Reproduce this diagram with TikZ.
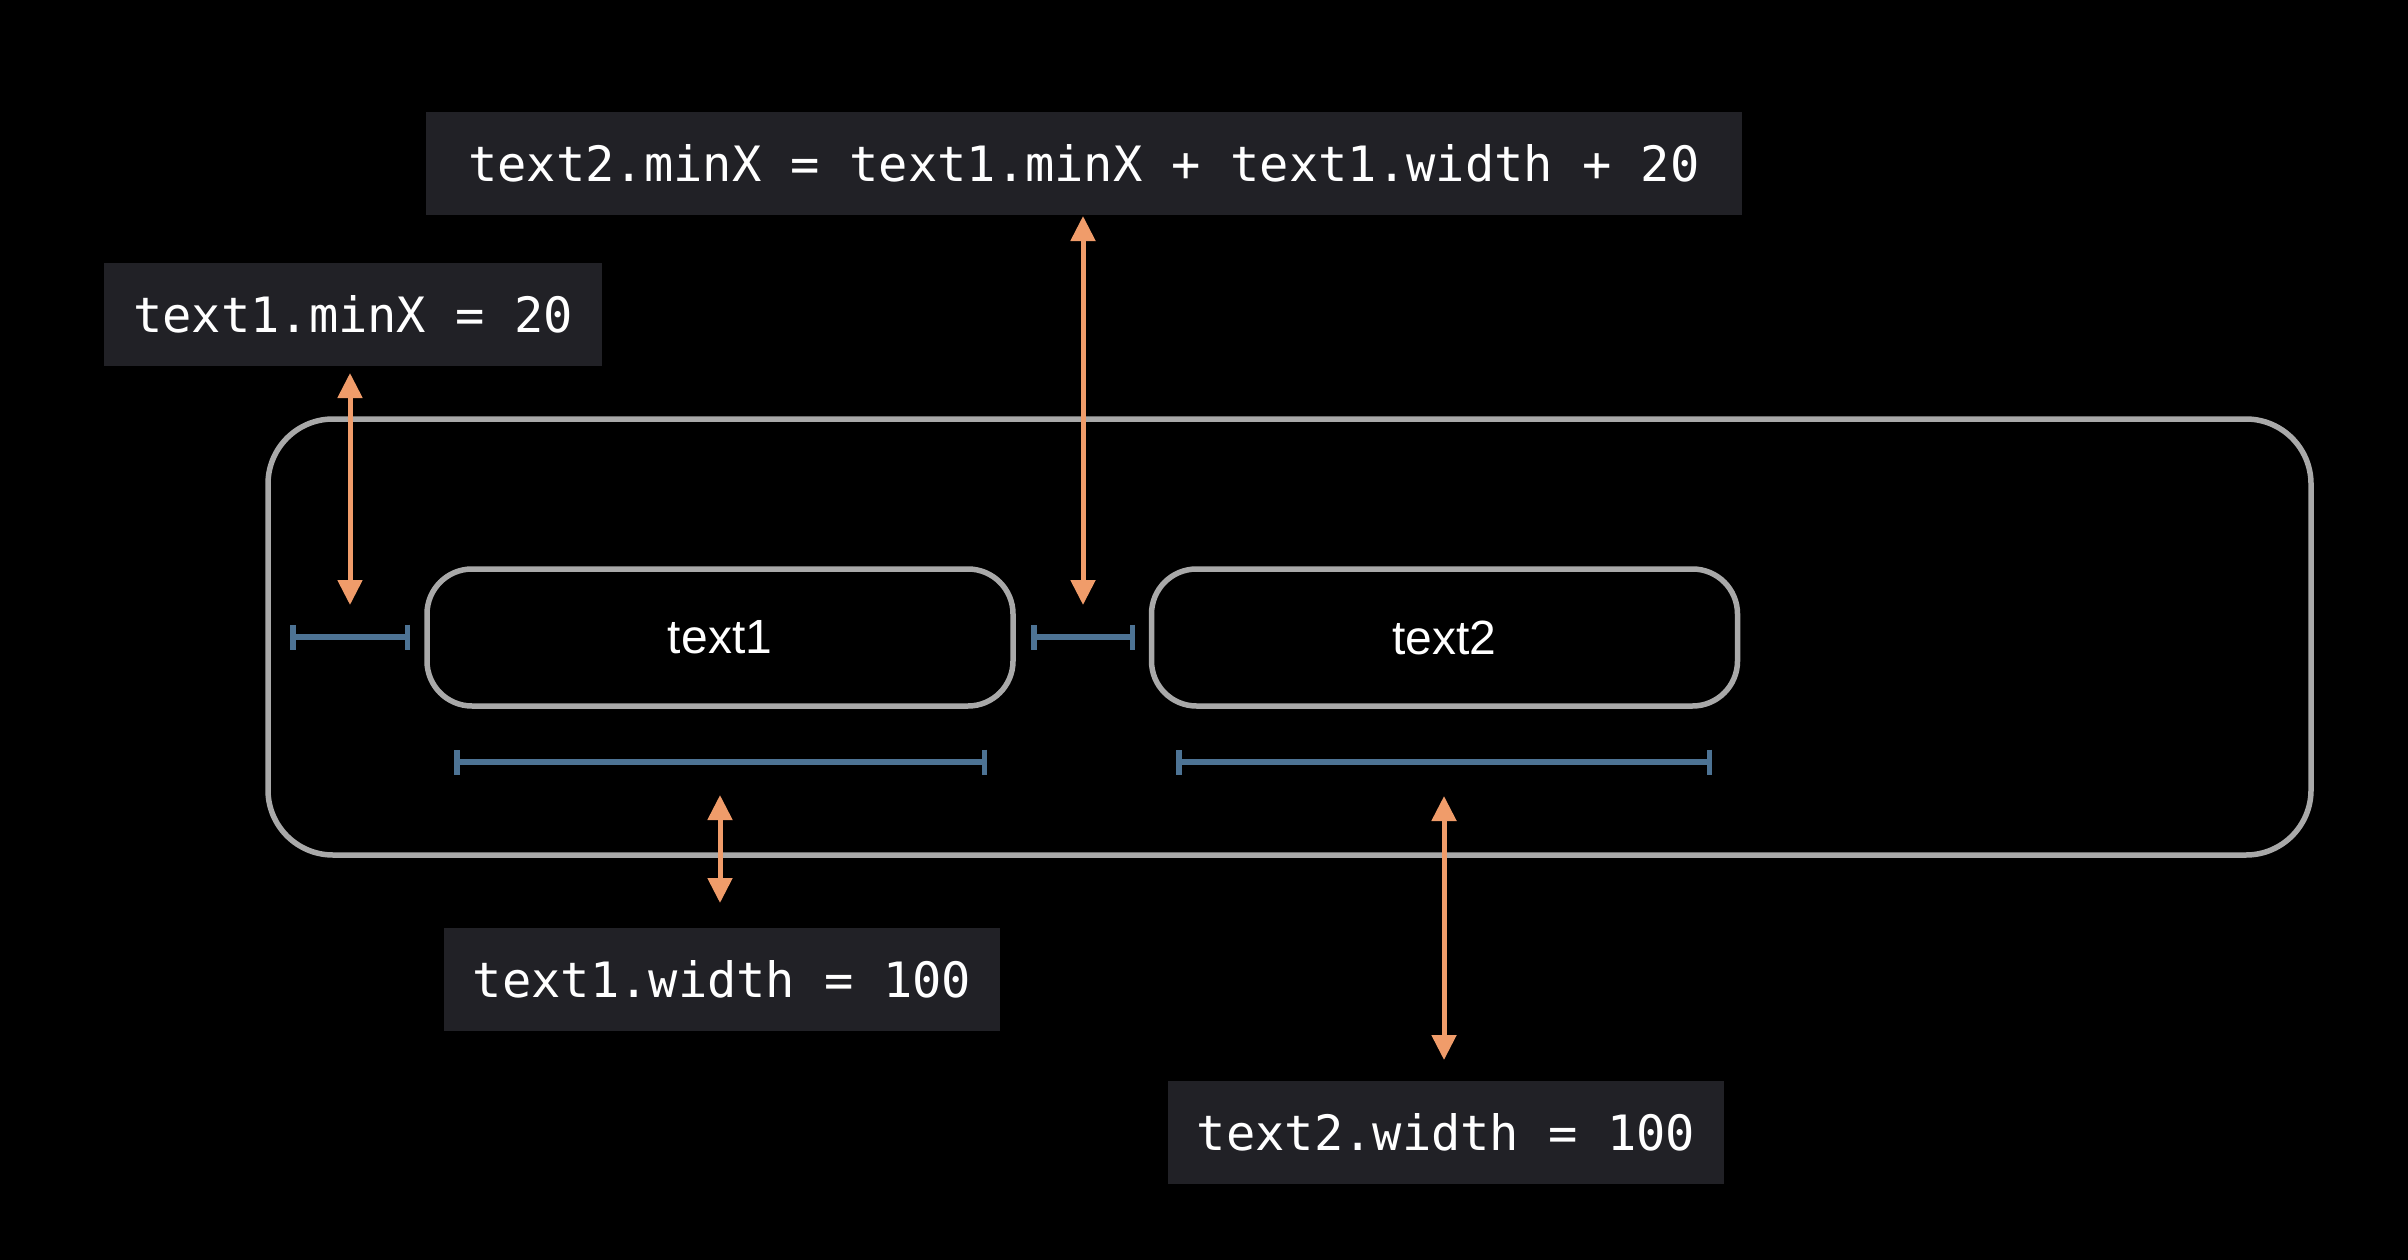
\documentclass[tikz,border=0pt]{standalone}
\usepackage{fontspec}
\usetikzlibrary{arrows.meta}
\newfontfamily\codefont{DejaVu Sans Mono}
\newfontfamily\boxfont{Liberation Sans}
\definecolor{labelbg}{HTML}{212126}
\definecolor{outline}{HTML}{A9A9A9}
\definecolor{orangearr}{HTML}{F09C6A}
\definecolor{bluebar}{HTML}{4D7394}
\tikzset{
  codelabel/.style={fill=labelbg, draw=none, text=white, inner sep=0pt,
    minimum height=103pt, font=\codefont\fontsize{48.7}{58}\selectfont},
  viewbox/.style={draw=outline, line width=5.5pt, rounded corners=45pt, inner sep=0pt,
    minimum width=586pt, minimum height=137pt, text=white,
    font=\boxfont\fontsize{48}{57}\selectfont},
  container/.style={draw=outline, line width=5.5pt, rounded corners=65pt, inner sep=0pt,
    minimum width=2043pt, minimum height=436pt},
  dimbar/.style={draw=bluebar, line width=5.5pt, {Bar[width=25pt]}-{Bar[width=25pt]}},
  oarrow/.style={draw=orangearr, line width=5pt,
    {Triangle[width=24pt,length=25pt]}-{Triangle[width=24pt,length=25pt]}}
}
\begin{document}
\begin{tikzpicture}[x=1pt,y=-1pt]
\fill[black] (0,0) rectangle (2408,1260);
\useasboundingbox (0,0) rectangle (2408,1260);

% container
\node[container] (outer) at (1289.5,637) {};

% views
\node[viewbox] (text1) at (720,637.5) {text1};
\node[viewbox] (text2) at (1444.5,637.5) {text2};

% code labels
\node[codelabel, minimum width=1316pt] (eqtop) at (1084,163.5) {text2.minX = text1.minX + text1.width + 20};
\node[codelabel, minimum width=498pt] (eqminx) at (353,314) {text1.minX = 20};
\node[codelabel, minimum width=556pt] (eqw1) at (722,979.5) {text1.width = 100};
\node[codelabel, minimum width=556pt] (eqw2) at (1446,1132.5) {text2.width = 100};

% dimension bars
\coordinate (gapAl) at (290,637);
\coordinate (gapAr) at (410,637);
\coordinate (gapBl) at (1031,637);
\coordinate (gapBr) at (1135,637);
\coordinate (w1l) at (454,762);
\coordinate (w1r) at (987,762);
\coordinate (w2l) at (1176,762);
\coordinate (w2r) at (1712,762);
\draw[dimbar] (gapAl) -- (gapAr);
\draw[dimbar] (gapBl) -- (gapBr);
\draw[dimbar] (w1l) -- (w1r);
\draw[dimbar] (w2l) -- (w2r);

% orange arrows
\coordinate (a1t) at (350,373);
\coordinate (a1b) at (350,605);
\coordinate (a2t) at (1083,216);
\coordinate (a2b) at (1083,605);
\coordinate (a3t) at (720,795);
\coordinate (a3b) at (720,903);
\coordinate (a4t) at (1444,796);
\coordinate (a4b) at (1444,1060);
\draw[oarrow] (a1t) -- (a1b);
\draw[oarrow] (a2t) -- (a2b);
\draw[oarrow] (a3t) -- (a3b);
\draw[oarrow] (a4t) -- (a4b);
\end{tikzpicture}
\end{document}
